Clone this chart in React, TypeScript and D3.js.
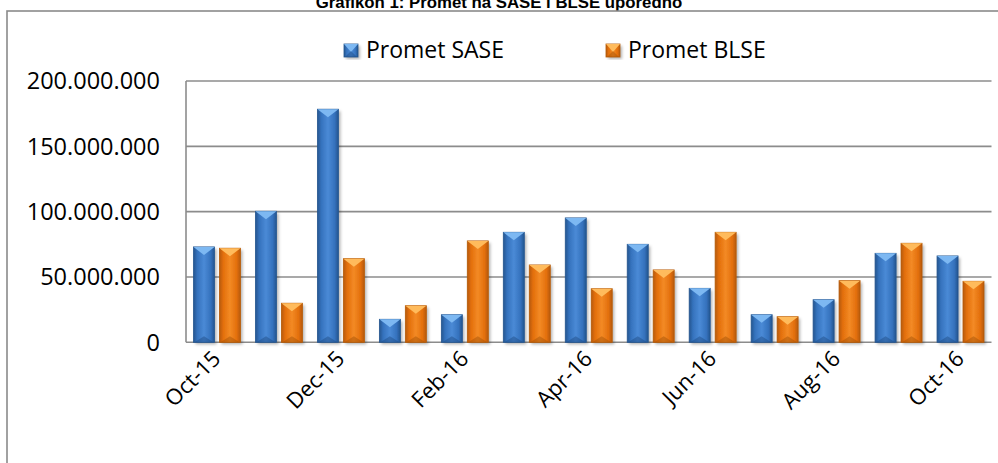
import * as d3 from "d3";
import React from "react";

const months = [
  "Oct-15", "Nov-15", "Dec-15", "Jan-16", "Feb-16", "Mar-16", "Apr-16",
  "May-16", "Jun-16", "Jul-16", "Aug-16", "Sep-16", "Oct-16",
];
const promSase = [
  73000000, 100300000, 178400000, 17600000, 21100000, 84200000, 95200000,
  75000000, 41300000, 21100000, 32600000, 68100000, 66100000,
];
const promBlse = [
  72000000, 29900000, 64000000, 28000000, 77600000, 59200000, 41000000,
  55400000, 84200000, 19600000, 47200000, 75800000, 46700000,
];
const seriesNames = ["Promet SASE", "Promet BLSE"];
const yTicks = [0, 50000000, 100000000, 150000000, 200000000];

const W = 998;
const H = 463;
const plot = { left: 186, right: 991.5, top: 81, bottom: 342.3 };

const palettes = [
  { dark: "#24558f", mid: "#3572bd", light: "#4a8ad6", cap: "#7db8f2", base: "#1d4a80" },
  { dark: "#b65a07", mid: "#e36f0b", light: "#f38a25", cap: "#ffbb5c", base: "#a04f06" },
];

const fmt = d3.formatLocale({
  decimal: ",",
  thousands: ".",
  grouping: [3],
  currency: ["", ""],
}).format(",");

const FONT = "'Open Sans', sans-serif";

const Bar: React.FC<{ x: number; y: number; w: number; h: number; s: number }> = ({ x, y, w, h, s }) => {
  const cap = Math.min(8, h);
  const base = Math.min(6, h / 2);
  return (
    <g>
      <rect x={x} y={y} width={w} height={h} fill={`url(#grad${s})`} filter="url(#shadow)" />
      <rect x={x} y={y} width={w} height={h} fill="none" stroke={palettes[s].dark} strokeWidth={0.8} />
      <polygon
        points={`${x},${y} ${x + w},${y} ${x + w / 2},${y + cap}`}
        fill={palettes[s].cap}
      />
      <polygon
        points={`${x + 1},${y + h} ${x + w - 1},${y + h} ${x + w / 2},${y + h - base}`}
        fill={palettes[s].base}
        opacity={0.45}
      />
    </g>
  );
};

export default function App() {
  const x0 = d3.scaleBand<string>().domain(months).range([plot.left, plot.right]).padding(0);
  const x1 = d3
    .scaleBand<number>()
    .domain([0, 1])
    .range([7.5, x0.bandwidth() - 7.5])
    .paddingInner(0.19);
  const y = d3.scaleLinear().domain([0, 200000000]).range([plot.bottom, plot.top]);

  const series = [promSase, promBlse];

  return (
    <svg
      width={W}
      height={H}
      style={{ position: "absolute", left: 0, top: 0, background: "#fff" }}
    >
      <defs>
        {palettes.map((p, i) => (
          <linearGradient key={i} id={`grad${i}`} x1="0" x2="1" y1="0" y2="0">
            <stop offset="0%" stopColor={p.dark} />
            <stop offset="18%" stopColor={p.mid} />
            <stop offset="50%" stopColor={p.light} />
            <stop offset="82%" stopColor={p.mid} />
            <stop offset="100%" stopColor={p.dark} />
          </linearGradient>
        ))}
        <filter id="shadow" x="-30%" y="-10%" width="170%" height="130%">
          <feDropShadow dx="2" dy="2" stdDeviation="1.8" floodColor="#000" floodOpacity="0.3" />
        </filter>
      </defs>

      <text
        x={499}
        y={8}
        textAnchor="middle"
        fontFamily="'Liberation Sans', Arial, sans-serif"
        fontWeight="bold"
        fontSize={16.8}
        fill="#000"
      >
        Grafikon 1: Promet na SASE i BLSE uporedno
      </text>

      <rect x={7} y={11} width={1200} height={800} fill="none" stroke="#8a8a8a" strokeWidth={1.6} />

      {/* legend */}
      {seriesNames.map((name, i) => {
        const lx = i === 0 ? 344 : 606;
        return (
          <g key={name}>
            <Bar x={lx} y={44} w={14} h={13} s={i} />
            <text x={lx + 22} y={58} fontFamily={FONT} fontSize={23} fill="#000">
              {name}
            </text>
          </g>
        );
      })}

      {/* gridlines */}
      {yTicks.map((t) => (
        <g key={t}>
          <line
            x1={plot.left}
            x2={plot.right}
            y1={y(t)}
            y2={y(t)}
            stroke="#8c8c8c"
            strokeWidth={1.6}
          />
          <text
            x={160}
            y={y(t)}
            dy="0.35em"
            textAnchor="end"
            fontFamily={FONT}
            fontSize={23.5}
            fill="#000"
          >
            {fmt(t)}
          </text>
        </g>
      ))}
      <line x1={plot.left} x2={plot.left} y1={plot.top} y2={plot.bottom} stroke="#8c8c8c" strokeWidth={1.6} />

      {/* bars */}
      {months.map((m, i) => (
        <g key={m} transform={`translate(${x0(m)},0)`}>
          {series.map((vals, s) => (
            <Bar
              key={s}
              x={x1(s)!}
              y={y(vals[i])}
              w={x1.bandwidth()}
              h={plot.bottom - y(vals[i])}
              s={s}
            />
          ))}
        </g>
      ))}

      {/* x labels */}
      {months.map((m, i) =>
        i % 2 === 0 ? (
          <text
            key={m}
            transform={`translate(${x0(m)! + x0.bandwidth() / 2 + 5},360) rotate(-45)`}
            textAnchor="end"
            fontFamily={FONT}
            fontSize={22}
            fill="#000"
          >
            {m}
          </text>
        ) : null
      )}
    </svg>
  );
}
